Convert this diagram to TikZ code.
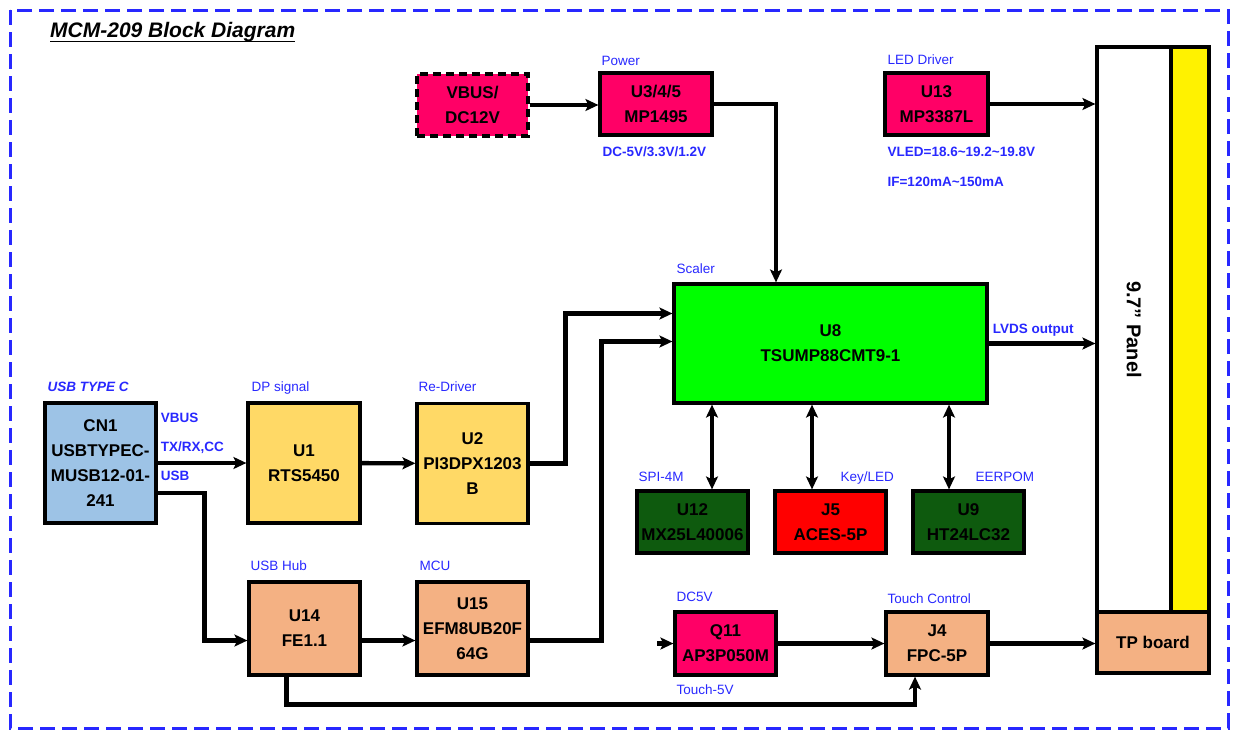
\documentclass[tikz,border=0pt]{standalone}
\usepackage{fontspec}
\setmainfont{Liberation Sans}
\usepackage{tikz}
\usetikzlibrary{shapes, arrows.meta, calc, positioning}

\definecolor{pwrpink}{RGB}{255,0,102}
\definecolor{scalergreen}{RGB}{0,255,0}
\definecolor{memgreen}{RGB}{14,90,14}
\definecolor{keyred}{RGB}{255,0,0}
\definecolor{dpyellow}{RGB}{255,217,102}
\definecolor{hubsalmon}{RGB}{244,177,131}
\definecolor{usbblue}{RGB}{157,195,230}
\definecolor{tagblue}{RGB}{40,40,255}

\begin{document}
\begin{tikzpicture}[>={Stealth[length=13pt,width=12pt,inset=3pt]}, x=1pt, y=-1pt]
	\tikzstyle{block} = [draw, line width=3.2pt, inner sep=0pt, align=center, font=\fontsize{17}{25}\selectfont\bfseries, minimum width=111pt, minimum height=62pt]
	\tikzstyle{wire} = [line width=4.4pt]
	\tikzstyle{tag} = [inner sep=0pt, anchor=base west, text=tagblue, font=\fontsize{13.5}{16}\selectfont]
	\tikzstyle{btag} = [tag, font=\fontsize{13.5}{16}\selectfont\bfseries]

	\useasboundingbox (0,0) rectangle (1236,731);
	\draw[tagblue, line width=3pt, dash pattern=on 15pt off 7pt] (10,10) rectangle (1228,728);

	\node[anchor=base west, inner sep=0pt, font=\fontsize{21}{25}\selectfont\bfseries\itshape] (title) at (50,37.5) {MCM-209 Block Diagram};
	\draw[line width=1.5pt] ([yshift=-4pt]title.base west) -- ([yshift=-4pt]title.base east);

	\node[block, fill=pwrpink, dash pattern=on 8pt off 5pt] (vbus) at (472.5,105) {VBUS/\\DC12V};
	\node[block, fill=pwrpink, minimum width=112pt] (u3) at (656,104) {U3/4/5\\MP1495};
	\node[block, fill=pwrpink, minimum width=103pt] (u13) at (936.5,104) {U13\\MP3387L};
	\node[block, fill=white, minimum width=74pt, minimum height=565pt] (panel) at (1134,329.5) {};
	\node[block, fill=yellow, minimum width=38pt, minimum height=565pt] (lcd) at (1190,329.5) {};
	\node[block, fill=hubsalmon, minimum width=112pt, minimum height=61pt] (tp) at (1153,642.5) {TP board};
	\node[font=\fontsize{20}{24}\selectfont\bfseries, rotate=-90] (paneltext) at (panel) {9.7\symbol{34} Panel};
	\node[block, fill=scalergreen, minimum width=313pt, minimum height=119pt] (u8) at (830.5,343.5) {U8\\TSUMP88CMT9-1};
	\node[block, fill=memgreen] (u12) at (692.5,522) {U12\\MX25L40006};
	\node[block, fill=keyred] (j5) at (830.5,522) {J5\\ACES-5P};
	\node[block, fill=memgreen] (u9) at (968.5,522) {U9\\HT24LC32};
	\node[block, fill=usbblue, minimum height=120pt] (cn1) at (100.5,463) {CN1\\USBTYPEC-\\MUSB12-01-\\241};
	\node[block, fill=dpyellow, minimum width=112pt, minimum height=120pt] (u1) at (304,463) {U1\\RTS5450};
	\node[block, fill=dpyellow, minimum height=120pt] (u2) at (472.5,463.5) {U2\\PI3DPX1203\\B};
	\node[block, fill=hubsalmon, minimum height=93pt] (u14) at (304.5,628.5) {U14\\FE1.1};
	\node[block, fill=hubsalmon, minimum height=93pt] (u15) at (472.5,628.5) {U15\\EFM8UB20F\\64G};
	\node[block, fill=pwrpink, minimum width=101pt, minimum height=63pt] (q11) at (725.5,643.5) {Q11\\AP3P050M};
	\node[block, fill=hubsalmon, minimum width=102pt, minimum height=63pt] (j4) at (937,643.5) {J4\\FPC-5P};

	\node[tag] (l_power) at ([shift={(3,-6)}]u3.north west) {Power};
	\node[tag] (l_led) at ([shift={(4,-7)}]u13.north west) {LED Driver};
	\node[tag] (l_scaler) at ([shift={(4,-9)}]u8.north west) {Scaler};
	\node[tag] (l_spi) at ([shift={(3,-8)}]u12.north west) {SPI-4M};
	\node[tag] (l_key) at ([shift={(67,-8)}]j5.north west) {Key/LED};
	\node[tag] (l_eep) at ([shift={(64,-8)}]u9.north west) {EERPOM};
	\node[tag] (l_dp) at ([shift={(5,-10)}]u1.north west) {DP signal};
	\node[tag] (l_redrv) at ([shift={(3,-10)}]u2.north west) {Re-Driver};
	\node[tag] (l_hub) at ([shift={(3,-10)}]u14.north west) {USB Hub};
	\node[tag] (l_mcu) at ([shift={(4,-10)}]u15.north west) {MCU};
	\node[tag] (l_dc5v) at ([shift={(3,-9)}]q11.north west) {DC5V};
	\node[tag] (l_touch) at ([shift={(3,-7)}]j4.north west) {Touch Control};
	\node[tag] (l_t5v) at ([shift={(3,18)}]q11.south west) {Touch-5V};
	\node[btag, font=\fontsize{13.5}{16}\selectfont\bfseries\itshape] (l_typec) at ([shift={(4,-10)}]cn1.north west) {USB TYPE C};
	\node[btag] (l_vbus) at ([shift={(3,21)}]cn1.north east) {VBUS};
	\node[btag] (l_txrx) at ([shift={(3,50)}]cn1.north east) {TX/RX,CC};
	\node[btag] (l_usb) at ([shift={(3,79)}]cn1.north east) {USB};
	\node[btag] (l_rails) at ([shift={(4,20)}]u3.south west) {DC-5V/3.3V/1.2V};
	\node[btag] (l_vled) at ([shift={(4,20)}]u13.south west) {VLED=18.6\textasciitilde19.2\textasciitilde19.8V};
	\node[btag] (l_if) at ([shift={(4,50)}]u13.south west) {IF=120mA\textasciitilde150mA};
	\node[btag] (l_lvds) at ([shift={(4,-10.5)}]u8.east) {LVDS output};

	\coordinate (a12) at ([xshift=19.5pt]u12.north);
	\coordinate (a5) at ([xshift=-18.5pt]j5.north);
	\coordinate (a9) at ([xshift=-19.5pt]u9.north);
	\coordinate (dcin) at (657,643.5);

	\path[->, wire]
		(vbus) edge (vbus -| u3.west)
		(cn1) edge (u1)
		(u1) edge (u2)
		([yshift=-12pt]u14.east) edge ([yshift=-12pt]u15.west)
		(dcin) edge (q11)
		(q11) edge (j4)
		(j4) edge (j4 -| tp.west)
		(u13) edge (u13 -| panel.west)
		(u8) edge (u8 -| panel.west)
	;
	\path[<->, wire]
		(a12) edge (a12 |- u8.south)
		(a5) edge (a5 |- u8.south)
		(a9) edge (a9 |- u8.south)
	;
	\draw[->, wire] (u3.east) -| ([xshift=-54.5pt]u8.north);
	\draw[->, wire] (u2.east) -- ++(36,0) |- ([yshift=30pt]u8.west);
	\draw[->, wire] ([yshift=-12pt]u15.east) -- ++(72,0) |- ([yshift=2pt]u8.west);
	\draw[->, wire] ([yshift=-30pt]cn1.east) -- ++(47,0) |- ([yshift=-12pt]u14.west);
	\draw[->, wire] ([xshift=-18pt]u14.south) -- ++(0,28) -| ([xshift=-22pt]j4.south);
\end{tikzpicture}
\end{document}
